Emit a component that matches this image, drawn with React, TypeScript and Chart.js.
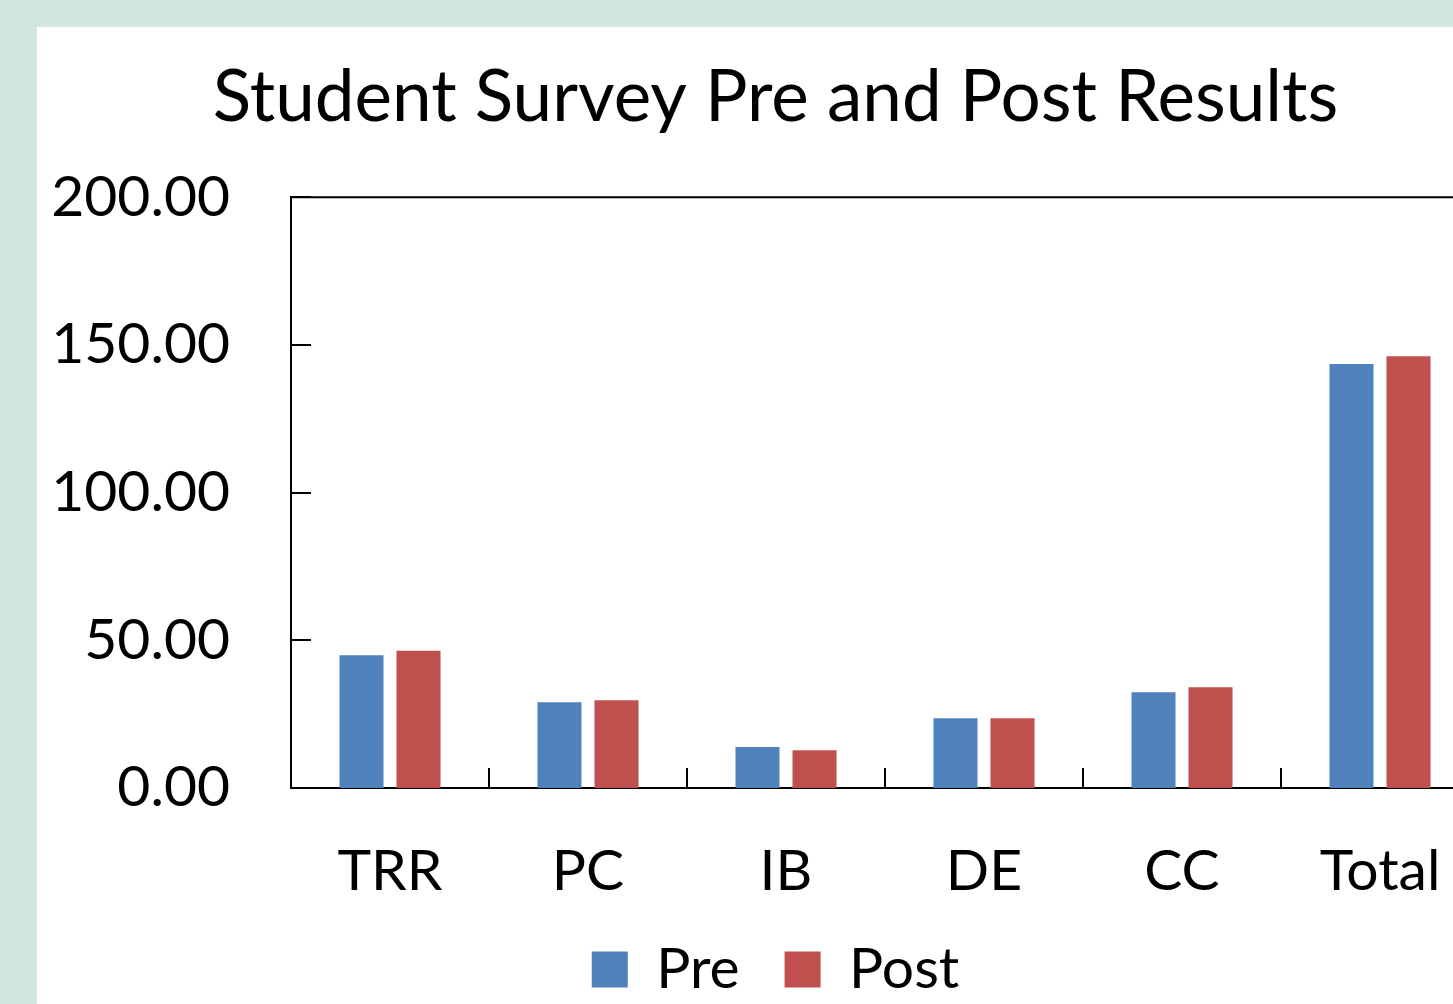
import { useEffect, useRef } from "react";
import { Chart, registerables } from "chart.js";

Chart.register(...registerables);

const chartTitle = "Student Survey Pre and Post Results";
const categories = ["TRR", "PC", "IB", "DE", "CC", "Total"];
const seriesNames = ["Pre", "Post"];
const preValues = [44.9, 29.0, 13.9, 23.6, 32.4, 143.5];
const postValues = [46.5, 29.7, 12.8, 23.6, 34.1, 146.2];
const yTickValues = [0, 50, 100, 150, 200];

const FONT = "Lato, 'Open Sans', sans-serif";

const frameTicks = {
  id: "frameTicks",
  afterLayout(chart: any) {
    // let the y tick labels use the space left of the layout padding (no clipping)
    chart.scales.y.left = 0;
  },
  afterDatasetsDraw(chart: any) {
    const { ctx, chartArea, scales } = chart;
    const xs = scales.x;
    const ys = scales.y;
    ctx.save();
    ctx.strokeStyle = "#000";
    ctx.lineWidth = 2;
    ctx.beginPath();
    ctx.moveTo(chartArea.left, chartArea.top);
    ctx.lineTo(chartArea.right, chartArea.top);
    ys.ticks.forEach((t: any) => {
      const py = Math.round(ys.getPixelForValue(t.value));
      ctx.moveTo(chartArea.left, py);
      ctx.lineTo(chartArea.left + 20, py);
    });
    for (let i = 0; i <= categories.length; i++) {
      const px = Math.round(xs.getPixelForValue(i - 0.5));
      ctx.moveTo(px, chartArea.bottom);
      ctx.lineTo(px, chartArea.bottom - 20);
    }
    ctx.stroke();
    ctx.restore();
  },
};

export default function App() {
  const canvasRef = useRef<HTMLCanvasElement | null>(null);

  useEffect(() => {
    const canvas = canvasRef.current;
    if (!canvas) return;
    const chart = new Chart(canvas, {
      type: "bar",
      data: {
        labels: categories,
        datasets: [
          {
            label: seriesNames[0],
            data: preValues,
            backgroundColor: "#4F81BD",
            borderWidth: 0,
            categoryPercentage: 0.576,
            barPercentage: 0.772,
          },
          {
            label: seriesNames[1],
            data: postValues,
            backgroundColor: "#C0504D",
            borderWidth: 0,
            categoryPercentage: 0.576,
            barPercentage: 0.772,
          },
        ],
      },
      options: {
        responsive: false,
        animation: false,
        events: [],
        layout: { padding: { left: 35, right: 38, top: 0, bottom: 4 } },
        plugins: {
          title: {
            display: true,
            text: chartTitle,
            color: "#000",
            font: { family: FONT, size: 71, weight: "normal" },
            padding: { top: 29, bottom: 56 },
          },
          legend: {
            position: "bottom",
            labels: {
              boxWidth: 36,
              boxHeight: 36,
              padding: 45,
              color: "#000",
              font: { family: FONT, size: 57 },
            },
          },
          tooltip: { enabled: false },
        },
        scales: {
          x: {
            grid: { display: false, drawTicks: false },
            border: { display: true, color: "#000", width: 2 },
            ticks: {
              color: "#000",
              padding: 49,
              font: { family: FONT, size: 57 },
              maxRotation: 0,
            },
            afterFit: (s: any) => {
              s.height = 108;
            },
          },
          y: {
            min: 0,
            max: 200,
            grid: { display: false, drawTicks: false },
            border: { display: true, color: "#000", width: 2 },
            afterBuildTicks: (s: any) => {
              s.ticks = yTickValues.map((v) => ({ value: v }));
            },
            ticks: {
              color: "#000",
              padding: 61,
              font: { family: FONT, size: 57 },
              callback: (v: any) => Number(v).toFixed(2),
            },
            afterFit: (s: any) => {
              s.width = 219;
            },
          },
        },
      },
      plugins: [frameTicks],
    });
    return () => chart.destroy();
  }, []);

  return (
    <div
      style={{
        position: "fixed",
        left: 0,
        top: 0,
        width: 1453,
        height: 1004,
        background: "#D1E6DD",
        overflow: "hidden",
      }}
    >
      <div
        style={{
          position: "absolute",
          left: 37,
          top: 27,
          width: 1416,
          height: 977,
          background: "#fff",
          overflow: "hidden",
        }}
      >
        <canvas
          ref={canvasRef}
          width={1480}
          height={985}
          style={{ position: "absolute", left: 0, top: 0, width: 1480, height: 985 }}
        />
      </div>
    </div>
  );
}
